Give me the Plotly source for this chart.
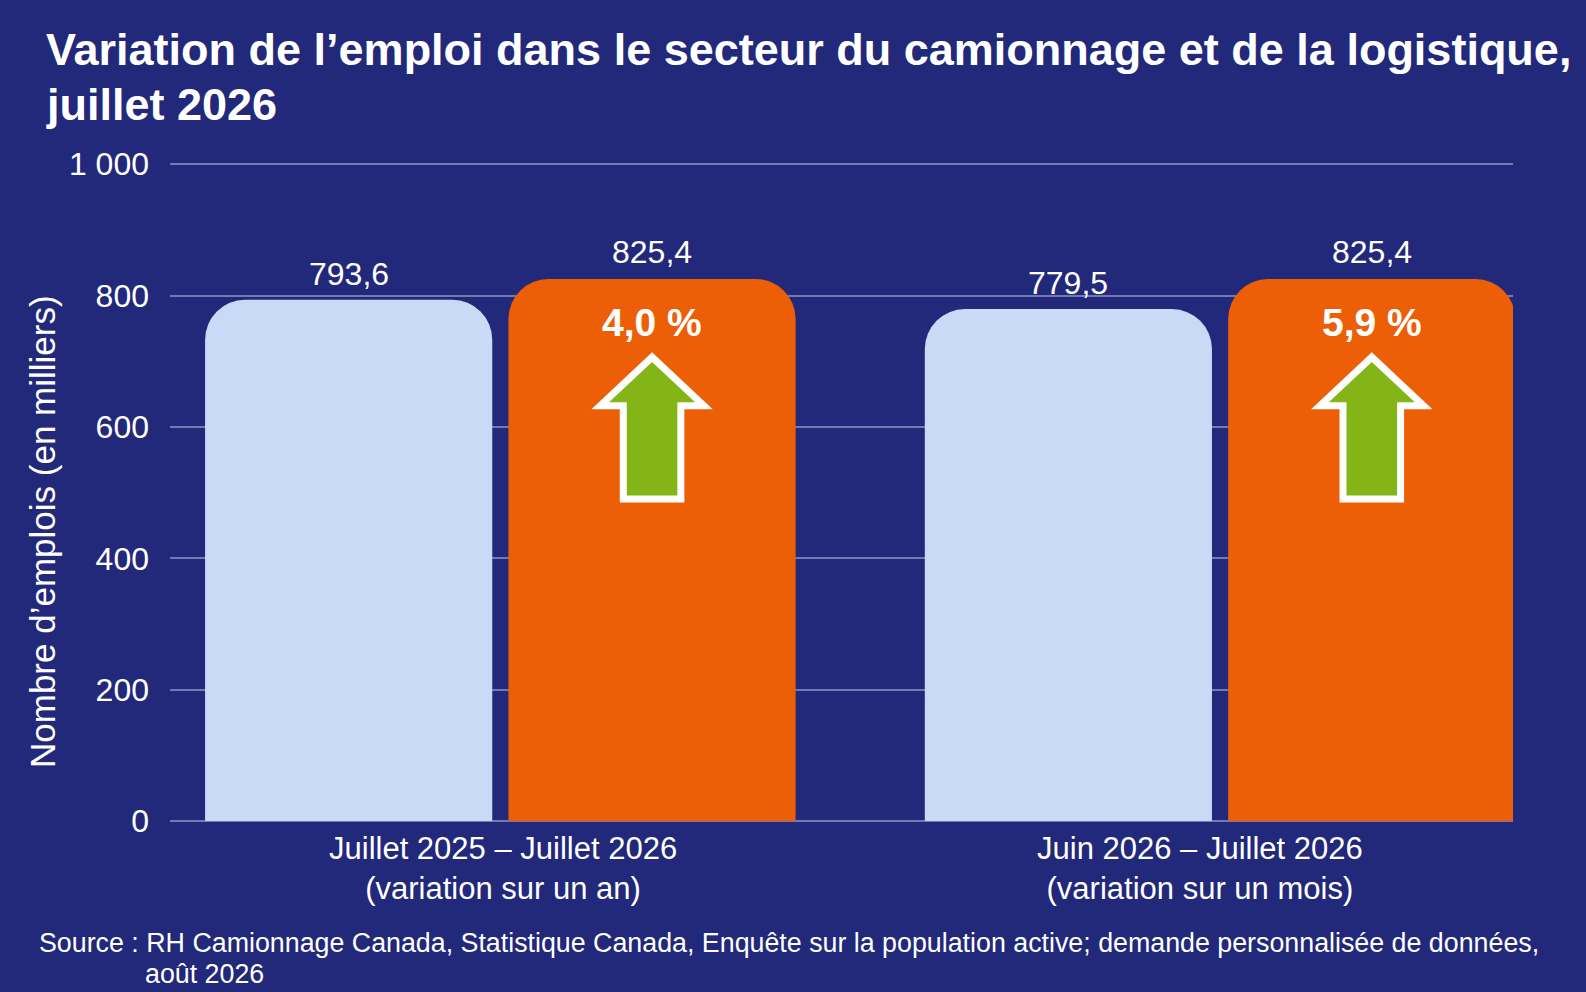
import plotly.graph_objects as go

# ---- data ----
categories = ["Juillet 2025 – Juillet 2026<br>(variation sur un an)",
              "Juin 2026 – Juillet 2026<br>(variation sur un mois)"]
base_values = [793.6, 779.5]
current_values = [825.4, 825.4]
base_labels = ["793,6", "779,5"]
current_labels = ["825,4", "825,4"]
pct_labels = ["4,0 %", "5,9 %"]
y_tickvals = [0, 200, 400, 600, 800, 1000]
y_ticktext = ["0", "200", "400", "600", "800", "1 000"]
title_lines = ["Variation de l’emploi dans le secteur du camionnage et de la logistique,",
               "juillet 2026"]
y_title = "Nombre d’emplois (en milliers)"
source_lines = ["Source : RH Camionnage Canada, Statistique Canada, Enquête sur la population active; demande personnalisée de données,",
                "août 2026"]

BG = "#22287a"
LIGHT = "#c9daf6"
ORANGE = "#ec5f06"
GREEN = "#84b516"
GRID = "#7479b0"
FONT = "Liberation Sans"

W, H = 1586, 992
L, R, T, B = 170, W - 1513, 161, H - 821
PW, PH = W - L - R, H - T - B


def px_x(px):
    return (px - L) / PW


def px_y(py):
    return (H - B - py) / PH


xpos = list(range(len(categories)))
OFF = 0.2108  # half slot offset for grouped bars

fig = go.Figure()
fig.add_trace(go.Bar(x=xpos, y=base_values, marker=dict(color=LIGHT, line=dict(width=0)),
                     hoverinfo="skip", showlegend=False))
fig.add_trace(go.Bar(x=xpos, y=current_values, marker=dict(color=ORANGE, line=dict(width=0)),
                     hoverinfo="skip", showlegend=False))

annotations = []
shapes = []
for i in xpos:
    annotations.append(dict(x=i - OFF, y=base_values[i], xref="x", yref="y", text=base_labels[i],
                            showarrow=False, yanchor="bottom", yshift=6,
                            font=dict(family=FONT, size=32, color="white")))
    annotations.append(dict(x=i + OFF, y=current_values[i], xref="x", yref="y", text=current_labels[i],
                            showarrow=False, yanchor="bottom", yshift=7,
                            font=dict(family=FONT, size=32, color="white")))
    annotations.append(dict(x=i + OFF, y=current_values[i] - 67, xref="x", yref="y",
                            text="<b>" + pct_labels[i] + "</b>", showarrow=False,
                            font=dict(family=FONT, size=39, color="white")))
    cx = i + OFF
    v = current_values[i]
    tip, hb, bot = v - 119, v - 193, v - 335
    hw, sw = 0.072, 0.040
    path = (f"M {cx},{tip} L {cx + hw},{hb} L {cx + sw},{hb} L {cx + sw},{bot} "
            f"L {cx - sw},{bot} L {cx - sw},{hb} L {cx - hw},{hb} Z")
    shapes.append(dict(type="path", path=path, xref="x", yref="y",
                       fillcolor=GREEN, line=dict(color="white", width=7), layer="above"))
    annotations.append(dict(x=i, y=0, xref="x", yref="y", text=categories[i], showarrow=False,
                            yanchor="top", yshift=-8, xshift=(3 if i == 0 else -20),
                            font=dict(family=FONT, size=31, color="white")))

# title lines
annotations.append(dict(x=px_x(44), y=px_y(49), xref="paper", yref="paper", text="<b>" + title_lines[0] + "</b>",
                        showarrow=False, xanchor="left", yanchor="middle",
                        font=dict(family=FONT, size=45, color="white")))
annotations.append(dict(x=px_x(44), y=px_y(105), xref="paper", yref="paper", text="<b>" + title_lines[1] + "</b>",
                        showarrow=False, xanchor="left", yanchor="middle",
                        font=dict(family=FONT, size=45, color="white")))
# y axis title
annotations.append(dict(x=px_x(42), y=px_y(532), xref="paper", yref="paper", text=y_title,
                        textangle=-90, showarrow=False, xanchor="center", yanchor="middle",
                        font=dict(family=FONT, size=35, color="white")))
# source
annotations.append(dict(x=px_x(37), y=px_y(943), xref="paper", yref="paper", text=source_lines[0],
                        showarrow=False, xanchor="left", yanchor="middle",
                        font=dict(family=FONT, size=26.8, color="white")))
annotations.append(dict(x=px_x(143), y=px_y(974), xref="paper", yref="paper", text=source_lines[1],
                        showarrow=False, xanchor="left", yanchor="middle",
                        font=dict(family=FONT, size=26.8, color="white")))

fig.update_layout(
    width=W, height=H,
    margin=dict(l=L, r=R, t=T, b=B, pad=0),
    paper_bgcolor=BG, plot_bgcolor=BG,
    barmode="group", bargap=0.157, bargroupgap=0.0534, barcornerradius=40,
    xaxis=dict(range=[-0.459, 1.407], showticklabels=False, showgrid=False, zeroline=False,
               fixedrange=True),
    yaxis=dict(range=[0, 1005], tickvals=y_tickvals, ticktext=y_ticktext, showgrid=True,
               gridcolor=GRID, gridwidth=2, zeroline=True, zerolinecolor=GRID, zerolinewidth=2,
               ticks="", ticklabelstandoff=20,
               tickfont=dict(family=FONT, size=32, color="white"), fixedrange=True),
    annotations=annotations, shapes=shapes,
)

fig.write_html("out.html", config={"displayModeBar": False},
               post_script="document.body.style.margin='0';document.body.style.overflow='hidden';"
                           "document.body.style.background='" + BG + "';")
